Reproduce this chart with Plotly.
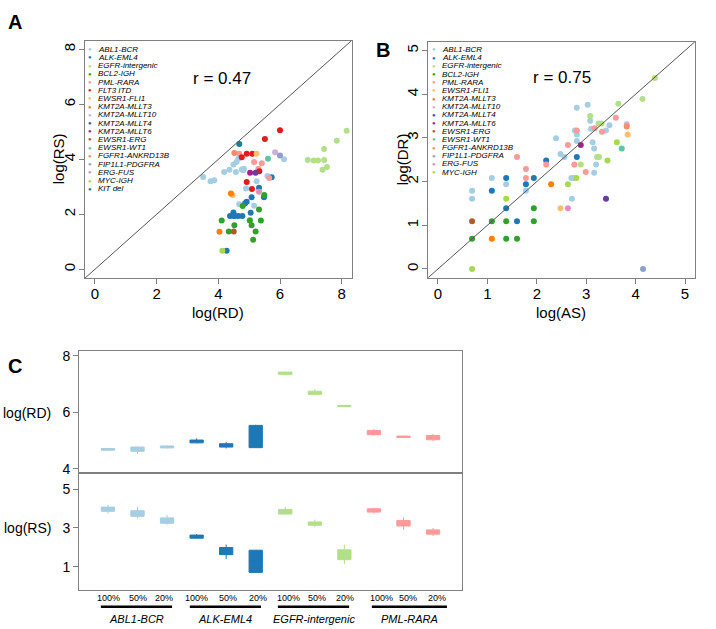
import plotly.graph_objects as go

W, H = 716, 629
FONT = "Liberation Sans, Arial, Helvetica, sans-serif"

# ---------------- categories & colours ----------------
legend_A = ["ABL1-BCR", "ALK-EML4", "EGFR-intergenic", "BCL2-IGH", "PML-RARA", "FLT3 ITD",
            "EWSR1-FLI1", "KMT2A-MLLT3", "KMT2A-MLLT10", "KMT2A-MLLT4", "KMT2A-MLLT6",
            "EWSR1-ERG", "EWSR1-WT1", "FGFR1-ANKRD13B", "FIP1L1-PDGFRA", "ERG-FUS",
            "MYC-IGH", "KIT del"]
legend_B = [n for n in legend_A if n not in ("FLT3 ITD", "KIT del")]

colors = {
    "ABL1-BCR": "#A6CEE3", "ALK-EML4": "#1F78B4", "EGFR-intergenic": "#B2DF8A",
    "BCL2-IGH": "#33A02C", "PML-RARA": "#FB9A99", "FLT3 ITD": "#E31A1C",
    "EWSR1-FLI1": "#FDBF6F", "KMT2A-MLLT3": "#FF7F00", "KMT2A-MLLT10": "#CAB2D6",
    "KMT2A-MLLT4": "#6A3D9A", "KMT2A-MLLT6": "#A3228A", "EWSR1-ERG": "#B15928",
    "EWSR1-WT1": "#66C2A5", "FGFR1-ANKRD13B": "#FC8D62", "FIP1L1-PDGFRA": "#8DA0CB",
    "ERG-FUS": "#E78AC3", "MYC-IGH": "#A6D854", "KIT del": "#1A7F8E",
}

# ---------------- panel A: log(RD) vs log(RS) ----------------
A_logRD = {
    "ABL1-BCR": [3.51, 3.75, 3.87, 4.19, 4.36, 4.49, 4.57, 4.59, 4.65, 4.76, 4.81, 4.83, 5.24, 5.59, 6.13, 4.90, 4.68, 5.16, 5.03],
    "ALK-EML4": [5.73, 5.32, 5.48, 5.08, 4.87, 4.92, 4.38, 4.49, 4.54, 4.65, 4.78, 4.49, 5.05, 4.27],
    "EGFR-intergenic": [6.90, 7.09, 7.23, 7.43, 7.43, 7.84, 8.16, 7.52, 7.38],
    "BCL2-IGH": [5.49, 4.79, 5.32, 4.11, 5.02, 5.38, 4.52, 5.08, 4.34, 5.21, 5.13],
    "PML-RARA": [4.68, 5.16, 5.41, 5.30, 5.65],
    "FLT3 ITD": [6.00, 5.51, 4.76, 4.92, 5.10, 5.33, 4.92, 5.09],
    "EWSR1-FLI1": [5.24, 4.46],
    "KMT2A-MLLT3": [4.41, 4.04],
    "KMT2A-MLLT10": [5.84],
    "KMT2A-MLLT4": [5.21],
    "KMT2A-MLLT6": [5.03],
    "EWSR1-ERG": [4.50],
    "EWSR1-WT1": [5.61],
    "FGFR1-ANKRD13B": [4.52],
    "FIP1L1-PDGFRA": [6.00],
    "ERG-FUS": [5.32],
    "MYC-IGH": [4.13],
    "KIT del": [4.68],
}
A_logRS = {
    "ABL1-BCR": [3.36, 3.20, 3.24, 3.54, 3.62, 3.81, 3.54, 3.90, 4.02, 3.63, 3.60, 3.66, 3.20, 3.39, 4.00, 2.94, 2.37, 2.31, 1.79],
    "ALK-EML4": [3.35, 2.97, 2.62, 2.62, 2.40, 2.46, 1.94, 1.94, 1.94, 1.94, 1.94, 2.07, 2.06, 0.68],
    "EGFR-intergenic": [3.98, 3.96, 3.96, 3.98, 4.38, 4.68, 5.04, 3.72, 3.62],
    "BCL2-IGH": [2.70, 2.30, 2.18, 1.78, 1.78, 1.78, 1.60, 1.60, 1.38, 1.38, 1.08],
    "PML-RARA": [4.20, 3.90, 3.86, 3.66, 3.32],
    "FLT3 ITD": [5.06, 4.74, 4.08, 4.20, 4.20, 3.57, 3.18, 2.92],
    "EWSR1-FLI1": [4.20, 2.70],
    "KMT2A-MLLT3": [2.76, 1.37],
    "KMT2A-MLLT10": [4.26],
    "KMT2A-MLLT4": [3.51],
    "KMT2A-MLLT6": [3.51],
    "EWSR1-ERG": [1.38],
    "EWSR1-WT1": [4.02],
    "FGFR1-ANKRD13B": [4.23],
    "FIP1L1-PDGFRA": [4.14],
    "ERG-FUS": [2.82],
    "MYC-IGH": [0.68],
    "KIT del": [4.56],
}

# ---------------- panel B: log(AS) vs log(DR) ----------------
B_logAS = {
    "ABL1-BCR": [0.69, 0.69, 1.09, 1.38, 1.78, 2.70, 2.75, 2.71, 2.39, 2.48, 2.56, 2.81, 3.03, 2.77, 2.81, 2.81, 3.13, 3.16, 3.20, 3.16, 3.08, 3.10, 3.47, 3.40],
    "ALK-EML4": [1.09, 1.38, 1.38, 1.78, 1.94, 1.60, 2.19, 2.81],
    "EGFR-intergenic": [3.08, 3.25, 3.31, 3.65, 4.14, 4.39, 3.22, 3.26, 2.89],
    "BCL2-IGH": [0.69, 1.09, 1.38, 1.38, 1.60, 1.94, 1.94],
    "PML-RARA": [1.78, 1.78, 1.60, 2.19, 2.63, 2.76, 2.81, 3.17, 3.32, 3.60, 2.99],
    "EWSR1-FLI1": [2.48, 3.84],
    "KMT2A-MLLT3": [1.09, 2.29],
    "KMT2A-MLLT10": [3.82],
    "KMT2A-MLLT4": [3.40],
    "KMT2A-MLLT6": [2.89],
    "EWSR1-ERG": [0.69],
    "EWSR1-WT1": [3.72],
    "FGFR1-ANKRD13B": [3.82],
    "FIP1L1-PDGFRA": [4.15],
    "ERG-FUS": [2.63],
    "MYC-IGH": [3.43, 3.62, 2.80, 2.63, 1.38, 0.69],
}
B_logDR = {
    "ABL1-BCR": [1.79, 1.61, 2.08, 1.94, 1.79, 2.08, 2.08, 1.61, 2.99, 2.63, 2.56, 3.69, 3.76, 3.17, 3.08, 2.93, 2.90, 2.76, 2.39, 2.20, 3.39, 3.21, 3.29, 3.17],
    "ALK-EML4": [1.79, 2.08, 1.39, 1.94, 2.08, 1.09, 2.48, 2.56],
    "EGFR-intergenic": [3.50, 3.33, 3.33, 3.78, 3.89, 4.37, 2.56, 2.56, 2.39],
    "BCL2-IGH": [0.69, 1.09, 1.09, 0.69, 0.69, 1.39, 1.09],
    "PML-RARA": [2.29, 2.08, 2.56, 2.39, 2.84, 2.39, 3.17, 3.22, 3.14, 3.46, 2.22],
    "EWSR1-FLI1": [1.39, 3.08],
    "KMT2A-MLLT3": [0.69, 1.94],
    "KMT2A-MLLT10": [3.31],
    "KMT2A-MLLT4": [1.61],
    "KMT2A-MLLT6": [2.84],
    "EWSR1-ERG": [1.09],
    "EWSR1-WT1": [2.76],
    "FGFR1-ANKRD13B": [3.26],
    "FIP1L1-PDGFRA": [0.00],
    "ERG-FUS": [1.39],
    "MYC-IGH": [2.48, 2.90, 2.08, 1.94, 1.61, 0.00],
}

# ---------------- panel C: downsampling boxplots ----------------
C_groups = ["ABL1-BCR", "ALK-EML4", "EGFR-intergenic", "PML-RARA"]
C_levels = ["100%", "50%", "20%"]
# [lowerfence, q1, median, q3, upperfence] per level
C_RD = {
    "ABL1-BCR":        [[4.64, 4.66, 4.69, 4.72, 4.74], [4.53, 4.62, 4.70, 4.77, 4.80], [4.72, 4.74, 4.77, 4.81, 4.83]],
    "ALK-EML4":        [[4.90, 4.92, 4.97, 5.02, 5.08], [4.72, 4.77, 4.83, 4.89, 4.95], [4.74, 4.75, 5.10, 5.54, 5.56]],
    "EGFR-intergenic": [[7.33, 7.35, 7.39, 7.43, 7.45], [6.62, 6.64, 6.69, 6.75, 6.82], [6.20, 6.21, 6.23, 6.25, 6.26]],
    "PML-RARA":        [[5.18, 5.21, 5.28, 5.36, 5.41], [5.10, 5.11, 5.13, 5.16, 5.17], [4.98, 5.03, 5.10, 5.18, 5.23]],
}
C_RS = {
    "ABL1-BCR":        [[3.74, 3.86, 3.97, 4.08, 4.20], [3.50, 3.60, 3.75, 3.89, 4.10], [3.17, 3.24, 3.38, 3.52, 3.68]],
    "ALK-EML4":        [[2.45, 2.47, 2.55, 2.63, 2.69], [1.40, 1.62, 1.80, 1.99, 2.14], [0.69, 0.70, 1.30, 1.85, 1.86]],
    "EGFR-intergenic": [[3.70, 3.72, 3.84, 3.96, 4.10], [3.04, 3.14, 3.22, 3.31, 3.43], [1.14, 1.36, 1.60, 1.87, 2.13]],
    "PML-RARA":        [[3.74, 3.82, 3.90, 3.99, 4.04], [2.91, 3.10, 3.25, 3.39, 3.54], [2.58, 2.68, 2.79, 2.90, 3.00]],
}
C_positions = [1, 2, 3, 4, 5, 6, 7, 8, 9, 10, 11, 12]
C_level_label_pos = [1.01, 2.0, 2.9, 4.0, 5.06, 6.09, 7.1, 8.08, 9.01, 10.26, 11.16, 12.12]
C_group_bars = [(0.76, 3.17), (3.77, 6.18), (6.75, 9.16), (9.93, 12.47)]

# ---------------- helpers ----------------
def px(x):
    return x / W

def py(y):
    return 1 - y / H

fig = go.Figure()

for name in legend_A:
    fig.add_trace(go.Scatter(x=A_logRD[name], y=A_logRS[name], mode="markers",
                             marker=dict(color=colors[name], size=6, line=dict(width=0)),
                             xaxis="x", yaxis="y", showlegend=False, name=name))
for name in legend_B:
    fig.add_trace(go.Scatter(x=B_logAS[name], y=B_logDR[name], mode="markers",
                             marker=dict(color=colors[name], size=6, line=dict(width=0)),
                             xaxis="x2", yaxis="y2", showlegend=False, name=name))

for gi, g in enumerate(C_groups):
    pos = C_positions[gi * 3: gi * 3 + 3]
    for stats, xa, ya in ((C_RD[g], "x3", "y3"), (C_RS[g], "x4", "y4")):
        fig.add_trace(go.Box(
            x=pos,
            lowerfence=[s[0] for s in stats], q1=[s[1] for s in stats],
            median=[s[2] for s in stats], q3=[s[3] for s in stats],
            upperfence=[s[4] for s in stats],
            fillcolor=colors[g], line=dict(color=colors[g], width=1),
            whiskerwidth=0, width=0.45, boxpoints=False,
            xaxis=xa, yaxis=ya, showlegend=False, name=g))

AX = dict(showline=True, linecolor="#808080", linewidth=1, mirror=True,
          ticks="outside", ticklen=5, tickcolor="#808080", showgrid=False, zeroline=False,
          tickfont=dict(family=FONT, size=15, color="black"))

A_range = [-0.32, 8.32]
B_range = [-0.2, 5.2]

layout = dict(
    width=W, height=H, margin=dict(l=0, r=0, t=0, b=0),
    paper_bgcolor="white", plot_bgcolor="white",
    font=dict(family=FONT, color="black"),
    xaxis=dict(AX, domain=[px(85), px(351.6)], range=A_range, tickvals=[0, 2, 4, 6, 8], anchor="y",
               ticklabelstandoff=-3),
    yaxis=dict(AX, domain=[py(277.2), py(37)], range=A_range, tickvals=[0, 2, 4, 6, 8], tickangle=-90,
               anchor="x", ticklabelstandoff=-2),
    xaxis2=dict(AX, domain=[px(428.1), px(694.9)], range=B_range, tickvals=[0, 1, 2, 3, 4, 5], anchor="y2",
                ticklabelstandoff=-3),
    yaxis2=dict(AX, domain=[py(276.8), py(38.2)], range=B_range, tickvals=[0, 1, 2, 3, 4, 5], tickangle=-90,
                anchor="x2", ticklabelstandoff=-2),
    xaxis3=dict(showline=True, linecolor="#808080", mirror=True, showticklabels=False, ticks="",
                showgrid=False, zeroline=False, domain=[px(79), px(462)], range=[0.02, 12.98], anchor="y3"),
    yaxis3=dict(AX, domain=[py(474.6), py(351.4)], range=[3.84, 8.16], tickvals=[4, 6, 8], anchor="x3",
                tickfont=dict(family=FONT, size=14, color="black")),
    xaxis4=dict(showline=True, linecolor="#808080", mirror=True, showticklabels=False, ticks="",
                showgrid=False, zeroline=False, domain=[px(79), px(462)], range=[0.02, 12.98], anchor="y4"),
    yaxis4=dict(AX, domain=[py(592.9), py(474.6)], range=[-0.224, 5.824], tickvals=[1, 3, 5], anchor="x4",
                tickfont=dict(family=FONT, size=14, color="black")),
)
fig.update_layout(**layout)

# diagonal identity lines
fig.add_shape(type="line", xref="x", yref="y", x0=A_range[0], y0=A_range[0], x1=A_range[1], y1=A_range[1],
              line=dict(color="#555555", width=1))
fig.add_shape(type="line", xref="x2", yref="y2", x0=B_range[0], y0=B_range[0], x1=B_range[1], y1=B_range[1],
              line=dict(color="#555555", width=1))

ann = []

def text(x, y, s, size=15, xanchor="center", angle=0, color="black", **kw):
    ann.append(dict(x=px(x), y=py(y), xref="paper", yref="paper", text=s, showarrow=False,
                    xanchor=xanchor, yanchor="middle", textangle=angle,
                    font=dict(family=FONT, size=size, color=color), **kw))

# panel letters
text(15, 18, "<b>A</b>", size=20)
text(383, 47, "<b>B</b>", size=20)
text(15, 366, "<b>C</b>", size=20)

# axis titles
text(218, 312, "log(RD)", size=15)
text(58, 157, "log(RS)", size=15, angle=-90)
text(561, 312, "log(AS)", size=15)
text(402, 157, "log(DR)", size=15, angle=-90)
text(53, 414, "log(RD)", size=14, xanchor="right")
text(53, 530, "log(RS)", size=14, xanchor="right")

# correlations
text(222, 75, "r = 0.47", size=17)
text(562, 74, "r = 0.75", size=17)

# legends
for i, name in enumerate(legend_A):
    y = 45.7 + i * 8.3
    text(90, y, "●", size=6, color=colors[name])
    text(95.5, y, "<i>" + name + "</i>", size=8, xanchor="left")
for i, name in enumerate(legend_B):
    y = 46 + i * 8.27
    text(434, y, "●", size=6, color=colors[name])
    text(440, y, "<i>" + name + "</i>", size=8, xanchor="left")

# panel C bottom labels
for i, p in enumerate(C_level_label_pos):
    ann.append(dict(x=p, xref="x4", y=py(601), yref="paper", text=C_levels[i % 3], showarrow=False,
                    xanchor="center", yanchor="middle", font=dict(family=FONT, size=9, color="black")))
for g, (a, b) in zip(C_groups, C_group_bars):
    fig.add_shape(type="line", xref="x4", yref="paper", x0=a, x1=b, y0=py(609.5), y1=py(609.5),
                  line=dict(color="black", width=2.5))
    ann.append(dict(x=(a + b) / 2, xref="x4", y=py(622), yref="paper", text="<i>" + g + "</i>",
                    showarrow=False, xanchor="center", yanchor="middle",
                    font=dict(family=FONT, size=11, color="black")))

fig.update_layout(annotations=ann)
fig.write_html("out.html", config={"displayModeBar": False},
               post_script="document.body.style.margin='0px';")
